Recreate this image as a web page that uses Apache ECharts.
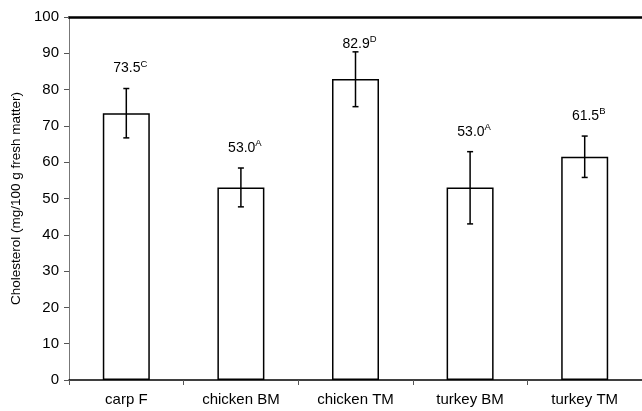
<!DOCTYPE html>
<html><head><meta charset="utf-8">
<script src="https://cdn.jsdelivr.net/npm/echarts@6/dist/echarts.min.js"></script>
<style>html,body{margin:0;padding:0;background:#fff}#c{width:642px;height:411px}</style>
</head><body><div id="c"></div>
<script>
var categories = ['carp F', 'chicken BM', 'chicken TM', 'turkey BM', 'turkey TM'];
var values = [73.5, 53.0, 82.9, 53.0, 61.5];
var errLow = [66.7, 47.7, 75.3, 43.0, 55.8];
var errHigh = [80.3, 58.4, 90.4, 62.9, 67.2];
var letters = ['C', 'A', 'D', 'A', 'B'];
var yTicks = [0, 10, 20, 30, 40, 50, 60, 70, 80, 90, 100];

var chart = echarts.init(document.getElementById('c'), null, {renderer: 'canvas'});
var FONT = 'Liberation Sans, Arial, sans-serif';
var grid = {left: 69, top: 17, width: 584, height: 363};
chart.setOption({
  animation: false,
  grid: grid,
  xAxis: [{
    type: 'category', data: categories, position: 'bottom',
    axisLine: {lineStyle: {color: '#000', width: 1.5}},
    axisTick: {show: true, alignWithLabel: false, length: 5, lineStyle: {color: '#555'}},
    axisLabel: {color: '#000', fontFamily: FONT, fontSize: 15, margin: 12}
  }, {
    type: 'category', data: categories, position: 'top',
    axisLine: {lineStyle: {color: '#000', width: 2.5}},
    axisTick: {show: false}, axisLabel: {show: false}
  }],
  yAxis: {
    type: 'value', min: 0, max: 100, interval: 10,
    name: 'Cholesterol (mg/100 g fresh matter)',
    nameLocation: 'middle', nameGap: 44, nameRotate: 90,
    nameTextStyle: {color: '#000', fontFamily: FONT, fontSize: 13.5},
    axisLine: {show: true, lineStyle: {color: '#777', width: 1}},
    axisTick: {show: true, length: 5, lineStyle: {color: '#555'}},
    axisLabel: {color: '#000', fontFamily: FONT, fontSize: 15, margin: 10,
      formatter: function (v) { return yTicks.indexOf(v) >= 0 ? String(v) : ''; }},
    splitLine: {show: false}
  },
  series: [{
    type: 'bar', data: values, barWidth: 47,
    itemStyle: {color: '#fff', borderColor: '#000', borderWidth: 1.5}
  }, {
    type: 'custom',
    data: categories.map(function (c, i) { return [i, errLow[i], errHigh[i], values[i]]; }),
    renderItem: function (params, api) {
      var x = api.coord([api.value(0), 0])[0];
      var lo = api.coord([api.value(0), api.value(1)])[1];
      var hi = api.coord([api.value(0), api.value(2)])[1];
      var i = params.dataIndex;
      var ly = Math.max(hi - 20, grid.top + 27);
      var cap = 3;
      var st = {stroke: '#000', lineWidth: 1.5};
      return {type: 'group', children: [
        {type: 'line', shape: {x1: x, y1: hi, x2: x, y2: lo}, style: st},
        {type: 'line', shape: {x1: x - cap, y1: hi, x2: x + cap, y2: hi}, style: st},
        {type: 'line', shape: {x1: x - cap, y1: lo, x2: x + cap, y2: lo}, style: st},
        {type: 'text', x: x + 4, y: ly, style: {
          text: '{a|' + values[i].toFixed(1) + '}{b|' + letters[i] + '}',
          align: 'center', verticalAlign: 'middle',
          rich: {
            a: {fontSize: 14, fontFamily: FONT, fill: '#000', color: '#000'},
            b: {fontSize: 9.5, fontFamily: FONT, fill: '#000', color: '#000', padding: [0, 0, 9, 0]}
          }
        }}
      ]};
    },
    z: 10
  }]
});
</script></body></html>
